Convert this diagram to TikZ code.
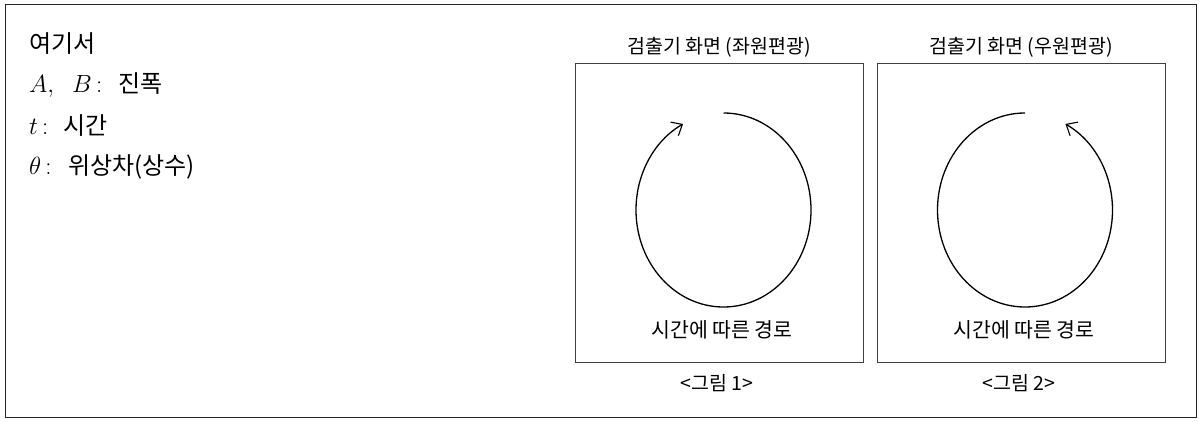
\documentclass[tikz,border=0pt]{standalone}
\usepackage{fontspec}
\setmainfont{Noto Sans CJK KR}
\usetikzlibrary{arrows.meta}
\newcommand{\mathlead}[2]{\makebox[#1][l]{\fontsize{27}{28}\selectfont$#2$}}
\tikzset{
  outerframe/.style={draw=black!85, line width=1pt, inner sep=0pt},
  panel/.style={draw=black!75, line width=0.8pt, inner sep=0pt, minimum width=288pt, minimum height=299pt},
  lefttxt/.style={anchor=base west, inner sep=0pt, font=\fontsize{24}{28}\selectfont},
  paneltitle/.style={inner sep=0pt, font=\fontsize{19.5}{22}\selectfont},
  figcap/.style={inner sep=0pt, font=\fontsize{19.5}{22}\selectfont},
  pathtxt/.style={inner sep=0pt, font=\fontsize{20.5}{23}\selectfont},
  orbit/.style={line width=1.3pt, -{Straight Barb[length=3.2mm,width=5.5mm,line width=1.1pt]}}
}
\begin{document}
\begin{tikzpicture}[x=1pt,y=1pt]
\useasboundingbox (0,0) rectangle (1199,421);
\node[outerframe, minimum width=1191pt, minimum height=412pt] (outer) at (600.5,210) {};
% left legend
\node[lefttxt] (l1) at (29,368) {여기서};
\node[lefttxt] (l2) at (29,328) {\mathlead{89pt}{A,\;\;B\,{:}}진폭};
\node[lefttxt] (l3) at (29,286) {\mathlead{34pt}{t\,{:}}시간};
\node[lefttxt] (l4) at (29,246) {\mathlead{39pt}{\theta\,{:}}위상차(상수)};
% panels
\node[panel] (p1) at (719,208.5) {};
\node[panel] (p2) at (1021,208.5) {};
\node[paneltitle] (t1) at (719,374) {검출기 화면 (좌원편광)};
\node[paneltitle] (t2) at (1021,374) {검출기 화면 (우원편광)};
\node[figcap] (c1) at (717,38) {<그림 1>};
\node[figcap] (c2) at (1019,38) {<그림 2>};
\node[pathtxt] (q1) at (722,91) {시간에 따른 경로};
\node[pathtxt] (q2) at (1024,91) {시간에 따른 경로};
% orbits
\coordinate (o1) at (723.5,211);
\coordinate (o2) at (1025,211);
\draw[orbit] ([shift={(0,97)}]o1) arc[start angle=90, end angle=-242.5, x radius=87.5, y radius=97];
\draw[orbit] ([shift={(0,97)}]o2) arc[start angle=90, end angle=422.5, x radius=87.5, y radius=97];
\end{tikzpicture}
\end{document}
